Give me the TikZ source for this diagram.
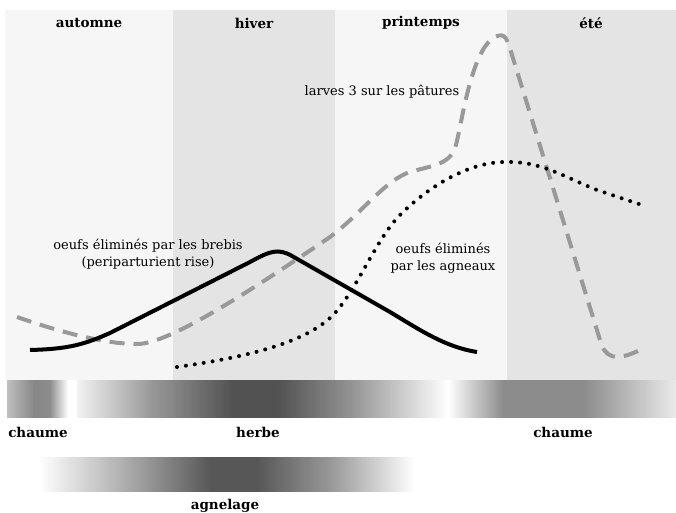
\documentclass[tikz,border=0pt]{standalone}
\usepackage{fontspec}
\setmainfont{DejaVu Serif}
\definecolor{bandA}{HTML}{F7F6F7}
\definecolor{bandB}{HTML}{E4E4E4}
\definecolor{dashgray}{HTML}{999999}
% shadings: path bbox maps to 25bp..75bp
\pgfdeclarehorizontalshading{chaumeL}{100bp}{color(0bp)=(black!25); color(25bp)=(black!25); color(47bp)=(black!47); color(60bp)=(black!45); color(75bp)=(white); color(100bp)=(white)}
\pgfdeclarehorizontalshading{herbe}{100bp}{color(0bp)=(white); color(25bp)=(white!95!black); color(35bp)=(black!40); color(46bp)=(black!68); color(52bp)=(black!68); color(62bp)=(black!42); color(75bp)=(white); color(100bp)=(white)}
\pgfdeclarehorizontalshading{chaumeR}{100bp}{color(0bp)=(white); color(25bp)=(white); color(37bp)=(black!45); color(55bp)=(black!45); color(75bp)=(black!8); color(100bp)=(black!8)}
\pgfdeclarehorizontalshading{agnel}{100bp}{color(0bp)=(white); color(25bp)=(white); color(35bp)=(black!28); color(48bp)=(black!66); color(54bp)=(black!66); color(64bp)=(black!40); color(75bp)=(white); color(100bp)=(white)}
\tikzset{
  title/.style={font=\fontsize{13.5}{16}\selectfont\bfseries, anchor=center},
  lbl/.style={font=\fontsize{13}{17}\selectfont, align=center, anchor=center},
  brebis/.style={line width=4pt, black, line join=round},
  larves/.style={line width=4pt, dashgray, dash pattern=on 15pt off 9pt},
  agneaux/.style={line width=4pt, black, line cap=round, dash pattern=on 0pt off 9pt},
}
\begin{document}
\begin{tikzpicture}[x=1pt,y=-1pt]
\useasboundingbox (0,0) rectangle (676,513);
% season bands
\fill[bandA] (5,10) rectangle (173,380);
\fill[bandB] (173,10) rectangle (335,380);
\fill[bandA] (335,10) rectangle (507,380);
\fill[bandB] (507,10) rectangle (676,380);
\node[title] (aut) at (89,23) {automne};
\node[title] (hiv) at (254,23) {hiver};
\node[title] (pri) at (421,23) {printemps};
\node[title] (ete) at (591,23) {été};
% curves
\draw[larves] (17,317) .. controls (60,332) and (105,344) .. (137,344)
  .. controls (165,344) and (230,305) .. (330,237)
  .. controls (360,215) and (385,180) .. (410,172)
  .. controls (430,166) and (449,165) .. (455,148)
  .. controls (461,131) and (470,50) .. (495,37)
  .. controls (505,32) and (507,38) .. (512,55)
  -- (600,340)
  .. controls (605,358) and (615,362) .. (640,350);
\draw[agneaux] (177,367) .. controls (240,358) and (300,345) .. (330,318)
  .. controls (355,295) and (375,240) .. (400,215)
  .. controls (430,185) and (470,162) .. (505,162)
  .. controls (540,161) and (560,175) .. (597,190)
  .. controls (615,196) and (630,201) .. (642,205);
\draw[brebis] (30,350) .. controls (70,349) and (85,344) .. (110,333)
  -- (250,262)
  .. controls (270,251) and (278,248) .. (292,256)
  -- (390,312)
  .. controls (420,330) and (445,347) .. (477,352);
% labels
\node[lbl] (lar) at (382,92) {larves 3 sur les pâtures};
\node[lbl] (bre) at (148,254) {oeufs éliminés par les brebis\\(periparturient rise)};
\node[lbl] (agn) at (443,258) {oeufs éliminés\\par les agneaux};
% gradient bars
\shade[shading=chaumeL] (7,380) rectangle (68,417);
\shade[shading=herbe] (77,380) rectangle (448,417);
\shade[shading=chaumeR] (448,380) rectangle (676,417);
\shade[shading=agnel] (39,457) rectangle (414,491);
\node[title] (ch1) at (38,432) {chaume};
\node[title] (hb) at (258,432) {herbe};
\node[title] (ch2) at (563,432) {chaume};
\node[title] (ag) at (225,506) {agnelage};
\end{tikzpicture}
\end{document}
